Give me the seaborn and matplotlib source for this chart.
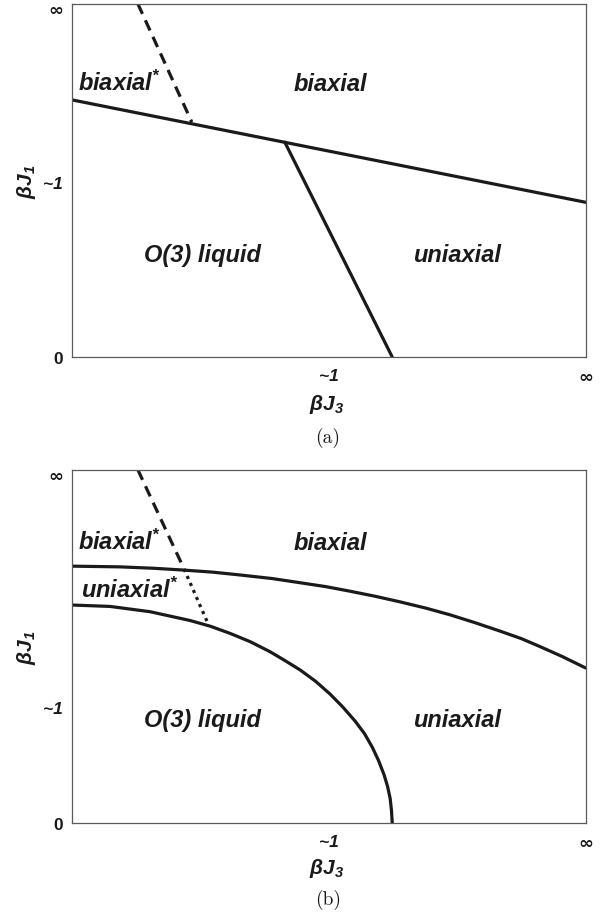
import matplotlib
matplotlib.use("Agg")
import matplotlib.pyplot as plt
import matplotlib.transforms as mtransforms
import seaborn as sns

# ---------------- data (normalised phase-diagram coordinates) ----------------
# panel (a)
a_upper_x = [0.0, 1.0]
a_upper_y = [0.728, 0.438]
a_mid_x = [0.415, 0.624]
a_mid_y = [0.608, 0.0]
a_dash_x = [0.129, 0.234]
a_dash_y = [1.0, 0.665]

# panel (b)
b_upper_x = [0.0, 0.094, 0.160, 0.217, 0.275, 0.328, 0.390, 0.445, 0.495, 0.542,
             0.590, 0.639, 0.690, 0.737, 0.785, 0.834, 0.875, 0.912, 0.955, 1.0]
b_upper_y = [0.727, 0.725, 0.721, 0.716, 0.710, 0.702, 0.692, 0.680, 0.669, 0.656,
             0.642, 0.626, 0.608, 0.589, 0.567, 0.543, 0.522, 0.499, 0.471, 0.439]
b_lower_x = [0.0, 0.075, 0.153, 0.231, 0.270, 0.308, 0.348, 0.386, 0.415, 0.445,
             0.475, 0.503, 0.528, 0.552, 0.570, 0.585, 0.597, 0.608, 0.615,
             0.620, 0.6226, 0.624]
b_lower_y = [0.617, 0.613, 0.598, 0.573, 0.557, 0.537, 0.513, 0.485, 0.460, 0.433,
             0.401, 0.365, 0.328, 0.288, 0.253, 0.215, 0.178, 0.137, 0.103,
             0.069, 0.034, 0.0]
b_dash_x = [0.129, 0.219]
b_dash_y = [1.0, 0.719]
b_dot_x = [0.219, 0.266]
b_dot_y = [0.719, 0.563]

x_ticks = [0.5, 1.0]
x_ticklabels = ["~1", "\u221e"]
a_y_ticks = [0.0, 0.495, 1.0]
b_y_ticks = [0.0, 0.328, 1.0]
y_ticklabels = ["0", "~1", "\u221e"]

a_labels = [("biaxial$^{*}$", 0.0126, 0.756, "left"),
            ("biaxial", 0.503, 0.756, "center"),
            ("O(3) liquid", 0.254, 0.272, "center"),
            ("uniaxial", 0.75, 0.272, "center")]
b_labels = [("biaxial$^{*}$", 0.0126, 0.776, "left"),
            ("biaxial", 0.503, 0.776, "center"),
            ("uniaxial$^{*}$", 0.018, 0.640, "left"),
            ("O(3) liquid", 0.254, 0.275, "center"),
            ("uniaxial", 0.75, 0.275, "center")]

# ---------------- style ----------------
sns.set_theme(style="white")
plt.rcParams["font.family"] = ["Liberation Sans", "DejaVu Sans"]
plt.rcParams["mathtext.fontset"] = "custom"
plt.rcParams["mathtext.it"] = "Liberation Sans:bold:italic"
plt.rcParams["mathtext.rm"] = "Liberation Sans:bold:italic"
plt.rcParams["mathtext.bf"] = "Liberation Sans:bold:italic"

INK = "#1a1a1a"
SPINE = "#5a5a5a"
LW = 2.3

W, H = 603, 920
fig = plt.figure(figsize=(W / 100, H / 100), dpi=100)
left = 71.5 / W
width = 514 / W
height = 353.3 / H
ax_a = fig.add_axes([left, (H - 358) / H, width, height])
ax_b = fig.add_axes([left, (H - 824) / H, width, height])


def style_axes(ax, yticks, label_y):
    ax.set_xlim(0, 1)
    ax.set_ylim(0, 1)
    for s in ax.spines.values():
        s.set_visible(True)
        s.set_color(SPINE)
        s.set_linewidth(0.9)
    ax.set_xticks(x_ticks)
    ax.set_xticklabels(x_ticklabels)
    ax.set_yticks(yticks)
    ax.set_yticklabels(y_ticklabels)
    ax.tick_params(axis="both", length=0, colors=INK, labelsize=12.5)
    ax.tick_params(axis="x", pad=8)
    ax.tick_params(axis="y", pad=6)
    for t in ax.get_xticklabels() + ax.get_yticklabels():
        t.set_fontweight("bold")
        if t.get_text().startswith("~"):
            t.set_fontstyle("italic")
        if t.get_text() == "\u221e":
            t.set_family(["DejaVu Sans"])
            t.set_fontsize(13)
    top_lab = ax.get_yticklabels()[-1]
    top_lab.set_va("top")
    top_lab.set_transform(top_lab.get_transform() + mtransforms.ScaledTranslation(
        0, 2.5 / 100, fig.dpi_scale_trans))
    ax.set_xlabel(r"$\beta J_3$", fontsize=15, color=INK)
    ax.xaxis.set_label_coords(0.497, label_y)
    ax.xaxis.label.set_va("center")
    ax.set_ylabel(r"$\beta J_1$", fontsize=15, color=INK)
    ax.yaxis.set_label_coords(-0.087, 0.5)
    ax.yaxis.label.set_va("center")


def line(ax, x, y, ls="-"):
    sns.lineplot(x=x, y=y, ax=ax, color=INK, linewidth=LW, sort=False,
                 estimator=None, linestyle=ls)


# panel (a)
line(ax_a, a_upper_x, a_upper_y)
line(ax_a, a_mid_x, a_mid_y)
line(ax_a, a_dash_x, a_dash_y, ls=(0, (3.5, 2.2)))
style_axes(ax_a, a_y_ticks, -0.133)
for txt, x, y, ha in a_labels:
    ax_a.text(x, y, txt, ha=ha, va="baseline", fontsize=17,
              fontweight="bold", fontstyle="italic", color=INK)

# panel (b)
line(ax_b, b_upper_x, b_upper_y)
line(ax_b, b_lower_x, b_lower_y)
line(ax_b, b_dash_x, b_dash_y, ls=(0, (3.5, 2.2)))
line(ax_b, b_dot_x, b_dot_y, ls=(0, (1.0, 1.4)))
style_axes(ax_b, b_y_ticks, -0.125)
for txt, x, y, ha in b_labels:
    ax_b.text(x, y, txt, ha=ha, va="baseline", fontsize=17,
              fontweight="bold", fontstyle="italic", color=INK)

# captions
fig.text(328 / W, 1 - 438 / H, "(a)", ha="center", va="center",
         fontsize=14, family="cmr10", color=INK)
fig.text(328 / W, 1 - 900 / H, "(b)", ha="center", va="center",
         fontsize=14, family="cmr10", color=INK)

fig.savefig("out.png", dpi=100, facecolor="white")
